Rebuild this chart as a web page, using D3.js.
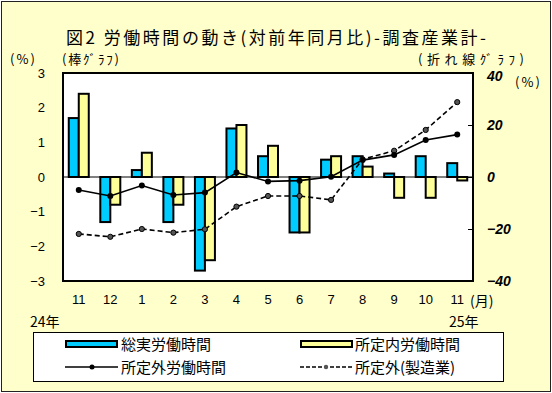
<!DOCTYPE html>
<html>
<head>
<meta charset="utf-8">
<script src="https://cdn.jsdelivr.net/npm/d3@7"></script>
<style>
  body { margin: 0; background: #fff; }
  text { font-family: "Noto Sans CJK JP", sans-serif; fill: #000; }
</style>
</head>
<body>
<script>
// data
var months = ["11", "12", "1", "2", "3", "4", "5", "6", "7", "8", "9", "10", "11"];
var total = [1.7, -1.3, 0.2, -1.3, -2.7, 1.4, 0.6, -1.6, 0.5, 0.6, 0.1, 0.6, 0.4];
var scheduled = [2.4, -0.8, 0.7, -0.8, -2.4, 1.5, 0.9, -1.6, 0.6, 0.3, -0.6, -0.6, -0.1];
var overtime = [-5.0, -7.3, -3.3, -6.9, -6.0, 1.7, -1.7, -1.4, 0.1, 6.5, 8.5, 14.2, 16.3];
var overtimeMfg = [-21.9, -23.0, -20.0, -21.4, -20.1, -11.4, -7.3, -7.3, -8.8, 6.8, 10.1, 18.1, 28.8];
var leftTicks = [3, 2, 1, 0, -1, -2, -3];
var rightTicks = [40, 20, 0, -20, -40];

var W = 552, H = 393;
var svg = d3.select("body").append("svg")
  .attr("width", W)
  .attr("height", H);

// background + frame
svg.append("rect")
  .attr("x", 1.5).attr("y", 1.5)
  .attr("width", W - 3).attr("height", H - 3)
  .attr("fill", "#FFFFCC")
  .attr("stroke", "#222")
  .attr("stroke-width", 1);

var plot = {left: 63, right: 473, top: 73, bottom: 281};

var x = d3.scaleBand()
  .domain(d3.range(months.length))
  .range([plot.left, plot.right]);

var yL = d3.scaleLinear().domain([-3, 3]).range([plot.bottom, plot.top]);
var yR = d3.scaleLinear().domain([-40, 40]).range([plot.bottom, plot.top]);

svg.append("rect")
  .attr("x", plot.left).attr("y", plot.top)
  .attr("width", plot.right - plot.left)
  .attr("height", plot.bottom - plot.top)
  .attr("fill", "#fff");

// title
svg.append("text")
  .attr("x", 66).attr("y", 44)
  .attr("textLength", 420).attr("lengthAdjust", "spacing")
  .style("font-size", "17px")
  .text("図2  労働時間の動き(対前年同月比)-調査産業計-");

svg.append("text").attr("x", 10).attr("y", 64).style("font-size", "13px")
  .attr("textLength", 25).text("(%)");
svg.append("text").attr("x", 62).attr("y", 64).style("font-size", "13px")
  .attr("textLength", 57).text("(棒ｸﾞﾗﾌ)");
svg.append("text").attr("x", 418).attr("y", 64).style("font-size", "13px")
  .attr("textLength", 106).text("(折れ線ｸﾞﾗﾌ)");
svg.append("text").attr("x", 515).attr("y", 87).style("font-size", "13px")
  .attr("textLength", 25).text("(%)");

// left axis
svg.append("g")
  .attr("transform", "translate(" + plot.left + ",0)")
  .call(d3.axisLeft(yL).tickValues(leftTicks).tickSize(0).tickPadding(18)
    .tickFormat(function(d) { return d < 0 ? "\u2212" + Math.abs(d) : d; }))
  .call(function(g) {
    g.select(".domain").remove();
    g.selectAll("text").style("font-size", "13px").style("font-family", "Liberation Sans, sans-serif");
  });

// right axis
svg.append("g")
  .attr("transform", "translate(" + plot.right + ",0)")
  .call(d3.axisRight(yR).tickValues(rightTicks).tickSize(-5).tickPadding(14)
    .tickFormat(function(d) { return d < 0 ? "\u2212" + Math.abs(d) : d; }))
  .call(function(g) {
    g.select(".domain").remove();
    g.selectAll("line").attr("stroke", "#000");
    g.selectAll("text").style("font-size", "14px").style("font-style", "italic")
      .style("font-weight", "bold").style("font-family", "Liberation Sans, sans-serif");
    // top label sits a little lower, clear of the caption above it
    g.selectAll("text").filter(function(d) { return d === 40; }).attr("dy", "0.55em");
  });

// x labels
svg.append("g")
  .attr("transform", "translate(0," + plot.bottom + ")")
  .call(d3.axisBottom(x).tickSize(0).tickPadding(14).tickFormat(function(i) { return months[i]; }))
  .call(function(g) {
    g.select(".domain").remove();
    g.selectAll("text").style("font-size", "13px").style("font-family", "Liberation Sans, sans-serif");
  });
svg.append("text").attr("x", 470).attr("y", 306).style("font-size", "14px").text("(月)");
svg.append("text").attr("x", 30).attr("y", 327).style("font-size", "14px").text("24年");
svg.append("text").attr("x", 449).attr("y", 327).style("font-size", "14px").text("25年");

// bars
var bw = 10;
function bars(vals, off, color) {
  svg.append("g").selectAll("rect")
    .data(vals)
    .join("rect")
    .attr("x", function(d, i) { return x(i) + x.bandwidth() / 2 + off; })
    .attr("y", function(d) { return yL(Math.max(0, d)); })
    .attr("width", bw)
    .attr("height", function(d) { return Math.abs(yL(d) - yL(0)); })
    .attr("fill", color)
    .attr("stroke", "#000")
    .attr("stroke-width", 2);
}
bars(total, -bw, "#00CCFF");
bars(scheduled, 0, "#FFFF99");

// zero line
svg.append("line")
  .attr("x1", plot.left).attr("x2", plot.right)
  .attr("y1", yL(0)).attr("y2", yL(0))
  .attr("stroke", "#000").attr("stroke-width", 1);

// lines
var line = d3.line()
  .x(function(d, i) { return x(i) + x.bandwidth() / 2; })
  .y(function(d) { return yR(d); });

svg.append("path").datum(overtimeMfg)
  .attr("d", line).attr("fill", "none")
  .attr("stroke", "#000").attr("stroke-width", 1.6)
  .attr("stroke-dasharray", "5,3");
svg.append("g").selectAll("circle").data(overtimeMfg).join("circle")
  .attr("cx", function(d, i) { return x(i) + x.bandwidth() / 2; })
  .attr("cy", function(d) { return yR(d); })
  .attr("r", 2.6).attr("fill", "#555").attr("stroke", "#000").attr("stroke-width", 1);

svg.append("path").datum(overtime)
  .attr("d", line).attr("fill", "none")
  .attr("stroke", "#000").attr("stroke-width", 1.6);
svg.append("g").selectAll("circle").data(overtime).join("circle")
  .attr("cx", function(d, i) { return x(i) + x.bandwidth() / 2; })
  .attr("cy", function(d) { return yR(d); })
  .attr("r", 3).attr("fill", "#000");

// plot border
svg.append("rect")
  .attr("x", plot.left).attr("y", plot.top)
  .attr("width", plot.right - plot.left)
  .attr("height", plot.bottom - plot.top)
  .attr("fill", "none").attr("stroke", "#000").attr("stroke-width", 2);

// legend
var lg = svg.append("g");
lg.append("rect")
  .attr("x", 33.5).attr("y", 332.5).attr("width", 470).attr("height", 49)
  .attr("fill", "#fff").attr("stroke", "#000").attr("stroke-width", 1);

lg.append("rect").attr("x", 66).attr("y", 341).attr("width", 51).attr("height", 6)
  .attr("fill", "#00CCFF").attr("stroke", "#000").attr("stroke-width", 2);
lg.append("text").attr("x", 121).attr("y", 350).style("font-size", "15px").text("総実労働時間");

lg.append("rect").attr("x", 301).attr("y", 341).attr("width", 51).attr("height", 6)
  .attr("fill", "#FFFF99").attr("stroke", "#000").attr("stroke-width", 2);
lg.append("text").attr("x", 355).attr("y", 350).style("font-size", "15px").text("所定内労働時間");

lg.append("line").attr("x1", 65).attr("x2", 118).attr("y1", 367).attr("y2", 367)
  .attr("stroke", "#000").attr("stroke-width", 1.6);
lg.append("circle").attr("cx", 92).attr("cy", 367).attr("r", 2.5).attr("fill", "#000");
lg.append("text").attr("x", 121).attr("y", 373).style("font-size", "15px").text("所定外労働時間");

lg.append("line").attr("x1", 300).attr("x2", 352).attr("y1", 367).attr("y2", 367)
  .attr("stroke", "#000").attr("stroke-width", 1.6).attr("stroke-dasharray", "4,2");
lg.append("circle").attr("cx", 326).attr("cy", 367).attr("r", 2.2).attr("fill", "#555");
lg.append("text").attr("x", 355).attr("y", 373).style("font-size", "15px").text("所定外(製造業)");
</script>
</body>
</html>
